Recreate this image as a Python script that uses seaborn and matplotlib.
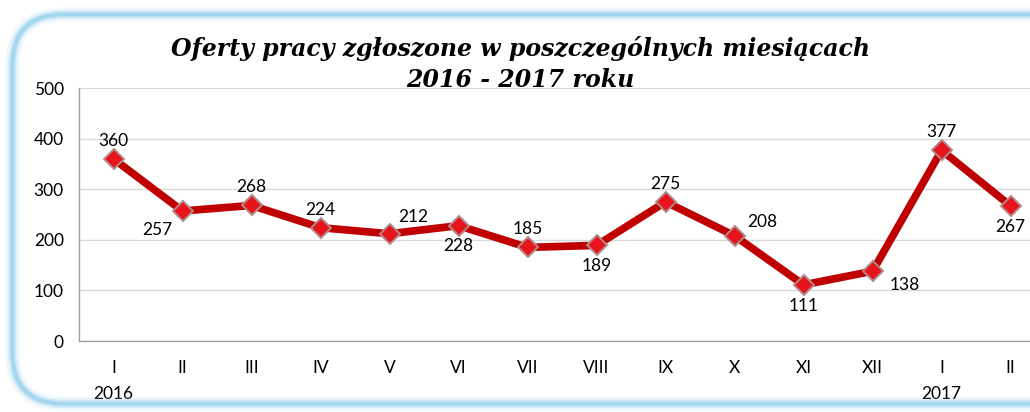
import matplotlib
matplotlib.use("Agg")
import matplotlib.pyplot as plt
import seaborn as sns
import pandas as pd
import numpy as np
from matplotlib.patches import FancyBboxPatch

months = ["I", "II", "III", "IV", "V", "VI", "VII", "VIII", "IX", "X", "XI", "XII", "I", "II"]
years = ["2016", "", "", "", "", "", "", "", "", "", "", "", "2017", ""]
values = [360, 257, 268, 224, 212, 228, 185, 189, 275, 208, 111, 138, 377, 267]
label_pos = ["above", "belowleft", "above", "above", "aboveright", "below", "above",
             "below", "above", "right", "below", "rightbelow", "above", "below"]
yticks = [0, 100, 200, 300, 400, 500]
title = "Oferty pracy zgłoszone w poszczególnych miesiącach\n2016 - 2017 roku"

sns.set_theme(style="white")
plt.rcParams['font.family'] = ['Lato', 'DejaVu Sans']
plt.rcParams['text.color'] = 'black'
plt.rcParams['xtick.labelcolor'] = 'black'
plt.rcParams['ytick.labelcolor'] = 'black'

fig = plt.figure(figsize=(10.30, 4.12), dpi=100)

# rounded frame with light-blue glow
for lw, a in [(10, 0.15), (6, 0.3), (3, 0.6)]:
    fig.patches.append(FancyBboxPatch((0.012, 0.02), 1.05, 0.945,
                                      boxstyle="round,pad=0,rounding_size=0.05",
                                      transform=fig.transFigure, fc="none",
                                      ec="#8ccbee", lw=lw, alpha=a, zorder=0,
                                      mutation_aspect=2.5))

ax = fig.add_axes([0.0767, 0.1723, 0.938, 0.614])
df = pd.DataFrame({"x": np.arange(len(values)), "v": values})
sns.lineplot(data=df, x="x", y="v", ax=ax, color="#c00000", lw=5.5,
             marker="D", markersize=10, markerfacecolor="#e8141c",
             markeredgecolor="#b08a8a", markeredgewidth=1.4, zorder=3)

ax.set_xlim(-0.5, len(values) - 0.5)
ax.set_ylim(0, 500)
ax.set_yticks(yticks)
ax.set_yticklabels([str(t) for t in yticks], fontsize=12.5)
ax.grid(axis="y", color="#d9d9d9", lw=1)
ax.set_axisbelow(True)
ax.set_xlabel("")
ax.set_ylabel("")
ax.set_xticks(np.arange(len(values)))
ax.set_xticklabels(months, fontsize=12.5)
ax.set_xticks(np.arange(len(values) + 1) - 0.5, minor=True)
ax.tick_params(axis="x", which="major", length=0, pad=14)
ax.tick_params(axis="x", which="minor", length=5, color="#a0a0a0", width=1, direction="out")
ax.tick_params(axis="y", length=5, color="#a0a0a0", width=1, direction="out", pad=6)
for s in ["top", "right"]:
    ax.spines[s].set_visible(False)
for s in ["left", "bottom"]:
    ax.spines[s].set_color("#a0a0a0")
    ax.spines[s].set_linewidth(1)

for i, y in enumerate(years):
    if y:
        ax.annotate(y, (i, 0), xycoords=("data", "axes fraction"),
                    xytext=(0, -38), textcoords="offset points",
                    ha="center", va="center", fontsize=12.5)

offsets = {"above": (0, 13), "below": (0, -15), "belowleft": (-18, -14),
           "aboveright": (17, 12), "right": (20, 10), "rightbelow": (23, -10)}
for i, (v, p) in enumerate(zip(values, label_pos)):
    dx, dy = offsets[p]
    ax.annotate(str(v), (i, v), xytext=(dx, dy), textcoords="offset points",
                ha="center", va="center", fontsize=12.5, zorder=5)

fig.text(0.505, 0.845, title, ha="center", va="center", fontsize=17,
         fontweight="bold", fontstyle="italic", family=["DejaVu Serif"],
         linespacing=1.4, color="black")

fig.savefig("out.png", dpi=100)
